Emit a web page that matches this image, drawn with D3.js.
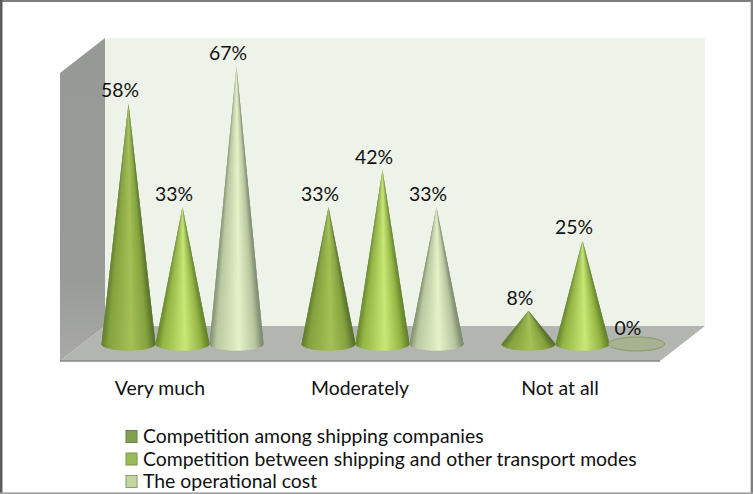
<!DOCTYPE html>
<html>
<head>
<meta charset="utf-8">
<script src="https://cdn.jsdelivr.net/npm/d3@7"></script>
<style>
  html, body { margin: 0; padding: 0; background: #fff; }
  svg { display: block; }
  text { font-family: Lato, "Open Sans", sans-serif; fill: #111; }
</style>
</head>
<body>
<svg id="chart" width="753" height="494"></svg>
<script>
const categories = ["Very much", "Moderately", "Not at all"];
const seriesNames = [
  "Competition among shipping companies",
  "Competition between shipping and other transport modes",
  "The operational cost"
];
const amongShipping = [58, 33, 8];
const betweenModes = [33, 42, 25];
const operationalCost = [67, 33, 0];
const seriesValues = [amongShipping, betweenModes, operationalCost];

const svg = d3.select("#chart");
const width = 753, height = 494;

const
  front = {left: 60, right: 660, bottom: 361},
  depth = {x: 45, y: 35},
  baseY = 344,
  coneRx = 27,
  coneRy = 6.5,
  fontSize = 19.4;

const labelScale = d3.scaleBand().domain(categories).range([front.left, front.right]);
const xScale = d3.scaleBand().domain(categories)
  .range([front.left + depth.x / 2, front.right + depth.x / 2]);
const seriesScale = d3.scaleBand().domain(d3.range(seriesNames.length))
  .range([xScale.bandwidth() / 2 - 81, xScale.bandwidth() / 2 + 81]);
const yScale = d3.scaleLinear().domain([0, 67]).range([baseY, 66]);

// shading across each cone, left edge to right edge
const shadeStops = [0, 0.12, 0.55, 0.85, 1];
const shades = [
  ["#5f7b2c", "#84a23e", "#a4c056", "#84a23e", "#536d28"],
  ["#66852a", "#93b344", "#c8e876", "#94b445", "#5f7d28"],
  ["#7f8e6e", "#b9c8a0", "#e6f2c8", "#b8c6a0", "#76866a"]
];
const shadeScales = shades.map(c => d3.scaleLinear().domain(shadeStops).range(c));

const defs = svg.append("defs");
const wallGrad = defs.append("linearGradient").attr("id", "sideWall")
  .attr("x1", 0).attr("y1", 0).attr("x2", 0).attr("y2", 1);
wallGrad.append("stop").attr("offset", 0).attr("stop-color", "#979996");
wallGrad.append("stop").attr("offset", 0.75).attr("stop-color", "#999b98");
wallGrad.append("stop").attr("offset", 1).attr("stop-color", "#a9aaa8");

// picture frame, each side has its own grey
svg.append("rect").attr("width", width).attr("height", height).attr("fill", "#fff");
svg.append("rect").attr("x", 0).attr("y", 0).attr("width", width).attr("height", 2).attr("fill", "#7f7f7f");
svg.append("rect").attr("x", 0).attr("y", 0).attr("width", 2.5).attr("height", height).attr("fill", "#5c5c5c");
svg.append("rect").attr("x", 750.7).attr("y", 0).attr("width", 2.3).attr("height", height).attr("fill", "#7f7f7f");
svg.append("rect").attr("x", 0).attr("y", 492.4).attr("width", width).attr("height", 1.6).attr("fill", "#a0a0a0");

// back wall, side wall, floor
const topBack = 38, backBottom = front.bottom - depth.y;
svg.append("rect")
  .attr("x", front.left + depth.x).attr("y", topBack)
  .attr("width", front.right - front.left).attr("height", backBottom - topBack)
  .attr("fill", "#eef3ea");
svg.append("path")
  .attr("d", `M${front.left},${topBack + depth.y}L${front.left + depth.x},${topBack}V${backBottom}L${front.left},${front.bottom}Z`)
  .attr("fill", "url(#sideWall)");
svg.append("path")
  .attr("d", `M${front.left},${front.bottom}L${front.left + depth.x},${backBottom}H${front.right + depth.x}L${front.right},${front.bottom}Z`)
  .attr("fill", "#b3b5b1");
svg.append("path")
  .attr("d", `M${front.left},${front.bottom}H${front.right}`)
  .attr("stroke", "#858784").attr("stroke-width", 1.5);

const points = seriesValues.flatMap((vals, s) =>
  vals.map((v, c) => ({
    s, v, cat: categories[c],
    cx: xScale(categories[c]) + seriesScale(s) + seriesScale.bandwidth() / 2
  })));

// cones are a fan of slices so the shading follows the taper up to the tip,
// each slice runs under the next one so no seams show
const sliceCount = 48;
const slices = d3.range(sliceCount);
const sliceAngle = d3.scaleLinear().domain([0, sliceCount]).range([Math.PI, 0]);

const cones = svg.append("g").selectAll("g")
  .data(points.filter(d => d.v > 0))
  .enter()
  .append("g");

cones.selectAll("path")
  .data(d => slices.map(k => ({k, cone: d})))
  .enter()
  .append("path")
    .attr("d", ({k, cone}) => {
      const a0 = sliceAngle(k), a1 = sliceAngle(Math.min(k + 2, sliceCount));
      const am = (a0 + a1) / 2;
      return `M${cone.cx},${yScale(cone.v)}` +
        `L${cone.cx + coneRx * Math.cos(a0)},${baseY + coneRy * Math.sin(a0)}` +
        `L${cone.cx + coneRx * Math.cos(am)},${baseY + coneRy * Math.sin(am)}` +
        `L${cone.cx + coneRx * Math.cos(a1)},${baseY + coneRy * Math.sin(a1)}Z`;
    })
    .attr("fill", ({k, cone}) => shadeScales[cone.s]((1 + Math.cos(sliceAngle(k + 0.5))) / 2));

// the zero value is only a flat disc
svg.append("g").selectAll("ellipse")
  .data(points.filter(d => d.v === 0))
  .enter()
  .append("ellipse")
    .attr("cx", d => d.cx).attr("cy", baseY)
    .attr("rx", 28).attr("ry", coneRy + 0.5)
    .attr("fill", "#a6b290")
    .attr("stroke", "#8a9c66");

// data labels
svg.append("g").selectAll("text")
  .data(points)
  .enter()
  .append("text")
    .attr("x", d => d.cx - 8.5)
    .attr("y", d => yScale(d.v) - (d.v === 0 ? 9 : 6))
    .attr("text-anchor", "middle")
    .attr("font-size", fontSize)
    .text(d => d.v + "%");

// category labels
svg.append("g").selectAll("text")
  .data(categories)
  .enter()
  .append("text")
    .attr("x", d => labelScale(d) + labelScale.bandwidth() / 2)
    .attr("y", 395)
    .attr("text-anchor", "middle")
    .attr("font-size", fontSize)
    .text(d => d);

// legend
const legend = svg.append("g").selectAll("g")
  .data(seriesNames)
  .enter()
  .append("g")
    .attr("transform", (d, i) => `translate(126,${[443, 465.5, 488][i]})`);
legend.append("rect")
  .attr("x", 0).attr("y", -12.5).attr("width", 11).attr("height", 12)
  .attr("fill", (d, i) => ["#82a04d", "#9bbb59", "#c3d69b"][i])
  .attr("stroke", (d, i) => ["#6b7f48", "#7a9548", "#8a9a72"][i]);
legend.append("text")
  .attr("x", 17)
  .attr("font-size", fontSize)
  .text(d => d);
</script>
</body>
</html>
